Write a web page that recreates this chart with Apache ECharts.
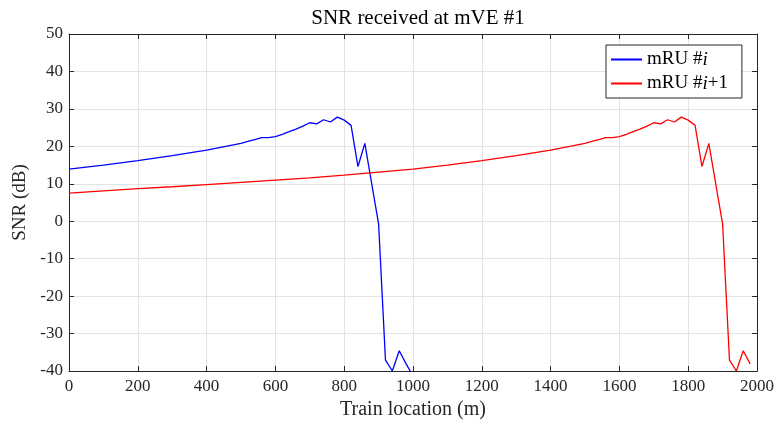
<!DOCTYPE html>
<html><head><meta charset="utf-8">
<script src="https://cdn.jsdelivr.net/npm/echarts@6/dist/echarts.min.js"></script>
<style>html,body{margin:0;padding:0;background:#fff}#c{width:778px;height:427px}</style>
</head><body><div id="c"></div>
<script>
// Data
var blueX = [0,100,200,300,400,500,520,540,560,580,600,620,640,660,680,700,720,740,760,780,800,820,840,860,880,900,920,940,960,980,1000];
var blueY = [13.9,15.0,16.2,17.5,19.0,20.8,21.3,21.8,22.3,22.3,22.6,23.2,23.9,24.6,25.4,26.3,26.0,27.1,26.5,27.8,27.0,25.6,14.6,20.8,10.0,-0.7,-37.1,-40.0,-34.6,-38.1,-41.3];
var redX = [0,100,200,300,400,500,600,700,800,900,1000,1100,1200,1300,1400,1500,1520,1540,1560,1580,1600,1620,1640,1660,1680,1700,1720,1740,1760,1780,1800,1820,1840,1860,1880,1900,1920,1940,1960,1980];
var redY = [7.5,8.1,8.7,9.2,9.8,10.4,11.0,11.6,12.3,13.1,13.9,15.0,16.2,17.5,19.0,20.8,21.3,21.8,22.3,22.3,22.6,23.2,23.9,24.6,25.4,26.3,26.0,27.1,26.5,27.8,27.0,25.6,14.6,20.8,10.0,-0.7,-37.1,-40.0,-34.6,-38.1];
var seriesNames = ['mRU #i', 'mRU #i+1'];
var titleText = 'SNR received at mVE #1';
var xLabel = 'Train location (m)';
var yLabel = 'SNR (dB)';
var xTicks = {min: 0, max: 2000, interval: 200};
var yTicks = {min: -40, max: 50, interval: 10};

function pairs(xs, ys){ return xs.map(function(x,i){return [x, ys[i]];}); }

var F = '"Liberation Serif", "Times New Roman", serif';
var axisCol = '#262626';
var chart = echarts.init(document.getElementById('c'));
var baseAxis = {
  axisLine: {show: true, onZero: false, lineStyle: {color: axisCol, width: 1}},
  axisTick: {show: true, inside: true, length: 5, lineStyle: {color: axisCol}},
  axisLabel: {color: axisCol, fontFamily: F, fontSize: 17},
  splitLine: {show: true, lineStyle: {color: '#e3e3e3', width: 1}}
};
function ax(o){ return Object.assign({}, JSON.parse(JSON.stringify(baseAxis)), o); }

chart.setOption({
  animation: false,
  backgroundColor: '#fff',
  title: {text: titleText, left: 413, textAlign: 'center', top: 3,
    textStyle: {fontFamily: F, fontSize: 21, fontWeight: 'normal', color: '#000'}},
  grid: {left: 69, right: 21, top: 34, bottom: 56},
  legend: {
    left: 606, top: 45, orient: 'vertical',
    backgroundColor: '#fff', borderColor: axisCol, borderWidth: 1, borderRadius: 0,
    padding: [5, 14, 5, 5], itemGap: 5, itemWidth: 31, itemHeight: 2, icon: 'rect',
    data: seriesNames,
    formatter: function(n){
      if (n === seriesNames[0]) return '{n|mRU #}{i|i}';
      return '{n|mRU #}{i|i}{n|+1}';
    },
    textStyle: {fontFamily: F, fontSize: 19, color: '#000',
      rich: {n: {fontFamily: F, fontSize: 19, color: '#000'},
             i: {fontFamily: F, fontSize: 19, fontStyle: 'italic', color: '#000'}}}
  },
  xAxis: [
    ax({type: 'value', min: xTicks.min, max: xTicks.max, interval: xTicks.interval,
      name: xLabel, nameLocation: 'middle', nameGap: 29,
      nameTextStyle: {fontFamily: F, fontSize: 20, color: axisCol},
      axisLabel: {color: axisCol, fontFamily: F, fontSize: 17, margin: 7,
        formatter: function(v){ return String(v); }}}),
    ax({type: 'value', position: 'top', min: xTicks.min, max: xTicks.max, interval: xTicks.interval,
      axisLabel: {show: false}, splitLine: {show: false}})
  ],
  yAxis: [
    ax({type: 'value', min: yTicks.min, max: yTicks.max, interval: yTicks.interval,
      name: yLabel, nameLocation: 'middle', nameGap: 34,
      nameTextStyle: {fontFamily: F, fontSize: 19, color: axisCol},
      axisLabel: {color: axisCol, fontFamily: F, fontSize: 17, margin: 6}}),
    ax({type: 'value', position: 'right', min: yTicks.min, max: yTicks.max, interval: yTicks.interval,
      axisLabel: {show: false}, splitLine: {show: false}})
  ],
  series: [
    {name: seriesNames[0], type: 'line', data: pairs(blueX, blueY), showSymbol: false, symbol: 'none',
     clip: true, itemStyle: {color: '#0000ff'}, lineStyle: {color: '#0000ff', width: 1.3}},
    {name: seriesNames[1], type: 'line', data: pairs(redX, redY), showSymbol: false, symbol: 'none',
     clip: true, itemStyle: {color: '#ff0000'}, lineStyle: {color: '#ff0000', width: 1.3}}
  ]
});
</script></body></html>
